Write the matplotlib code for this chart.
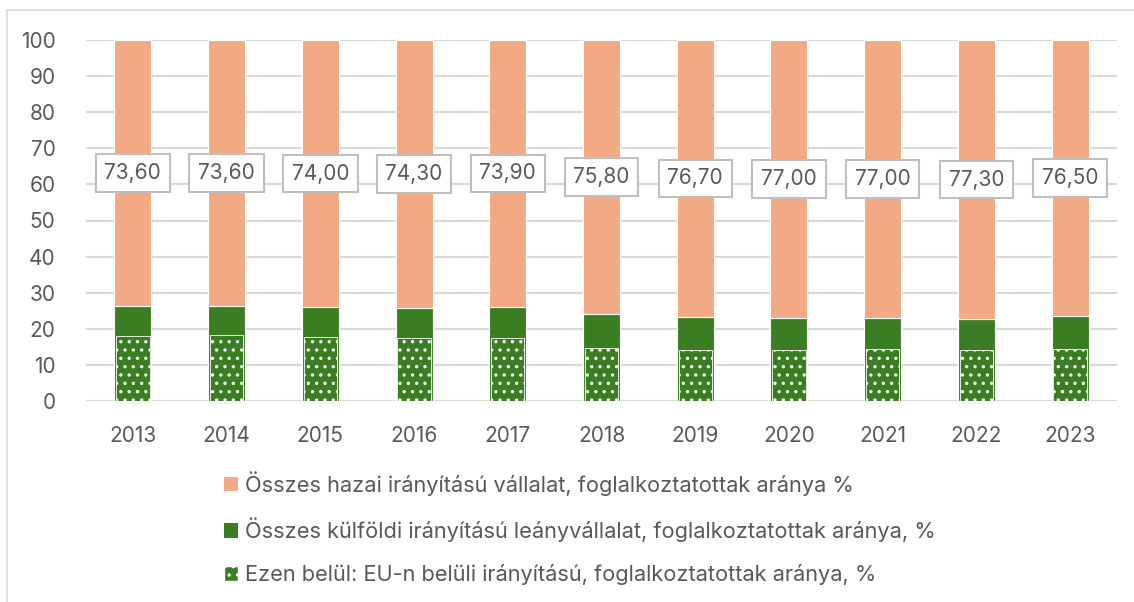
import matplotlib
matplotlib.use("Agg")
import matplotlib.pyplot as plt
from matplotlib.patches import Patch
import numpy as np

plt.rcParams['font.family'] = ['Inter', 'DejaVu Sans']
plt.rcParams['hatch.color'] = 'white'
plt.rcParams['hatch.linewidth'] = 1.2

years = ['2013', '2014', '2015', '2016', '2017', '2018', '2019', '2020', '2021', '2022', '2023']
hazai = [73.6, 73.6, 74.0, 74.3, 73.9, 75.8, 76.7, 77.0, 77.0, 77.3, 76.5]
kulfoldi = [26.4, 26.4, 26.0, 25.7, 26.1, 24.2, 23.3, 23.0, 23.0, 22.7, 23.5]
eu = [18.1, 18.2, 17.6, 17.4, 17.4, 14.7, 14.2, 14.0, 14.3, 14.0, 14.5]

labels = ['Összes hazai irányítású vállalat, foglalkoztatottak aránya %',
          'Összes külföldi irányítású leányvállalat, foglalkoztatottak aránya, %',
          'Ezen belül: EU-n belüli irányítású, foglalkoztatottak aránya, %']

c_orange = '#F2AA84'
c_green = '#3B7D23'
txt = '#595959'

fig = plt.figure(figsize=(11.34, 6.02), dpi=100)
ax = fig.add_axes([86/1134, 1-401/602, 1031/1134, 361/602])

x = np.arange(len(years))
w = 0.395
ax.bar(x, kulfoldi, w, color=c_green, edgecolor='white', linewidth=0.8, zorder=2)
ax.bar(x, hazai, w, bottom=kulfoldi, color=c_orange, edgecolor='white', linewidth=0.8, zorder=2)
ax.bar(x, eu, 0.355, color=c_green, edgecolor='white', hatch='..', linewidth=0.6, zorder=3)

for xi, k, h in zip(x, kulfoldi, hazai):
    ax.text(xi, k + h / 2, f'{h:.2f}'.replace('.', ','), ha='center', va='center',
            fontsize=15, color=txt, zorder=5,
            bbox=dict(boxstyle='square,pad=0.42', fc='white', ec='#BFBFBF', lw=1.5))

ax.set_xlim(-0.5, len(years) - 0.5)
ax.set_ylim(0, 100)
ax.set_yticks(range(0, 101, 10))
ax.set_xticks(x)
ax.set_xticklabels(years)
ax.yaxis.grid(True, color='#D9D9D9', linewidth=1.5, zorder=0)
ax.set_axisbelow(True)
for s in ax.spines.values():
    s.set_visible(False)
ax.tick_params(axis='both', length=0, labelsize=15, colors=txt)
ax.tick_params(axis='y', pad=22)
ax.tick_params(axis='x', pad=18)

handles = [Patch(facecolor=c_orange, edgecolor='none'),
           Patch(facecolor=c_green, edgecolor='none'),
           Patch(facecolor=c_green, edgecolor='white', hatch='..')]
leg = fig.legend(handles, labels, loc='upper left', bbox_to_anchor=(213/1134, 1-460/602),
                 frameon=False, fontsize=15.7, labelcolor=txt, handlelength=0.65,
                 handleheight=0.65, handletextpad=0.3, labelspacing=1.0, borderpad=0)

# chart border (left and top visible)
fig.add_artist(plt.Line2D([7/1134, 7/1134], [0, 1-10/602], transform=fig.transFigure,
                          color='#D9D9D9', lw=1.2))
fig.add_artist(plt.Line2D([7/1134, 1], [1-10/602, 1-10/602], transform=fig.transFigure,
                          color='#D9D9D9', lw=1.2))

fig.savefig('out.png', dpi=100)
